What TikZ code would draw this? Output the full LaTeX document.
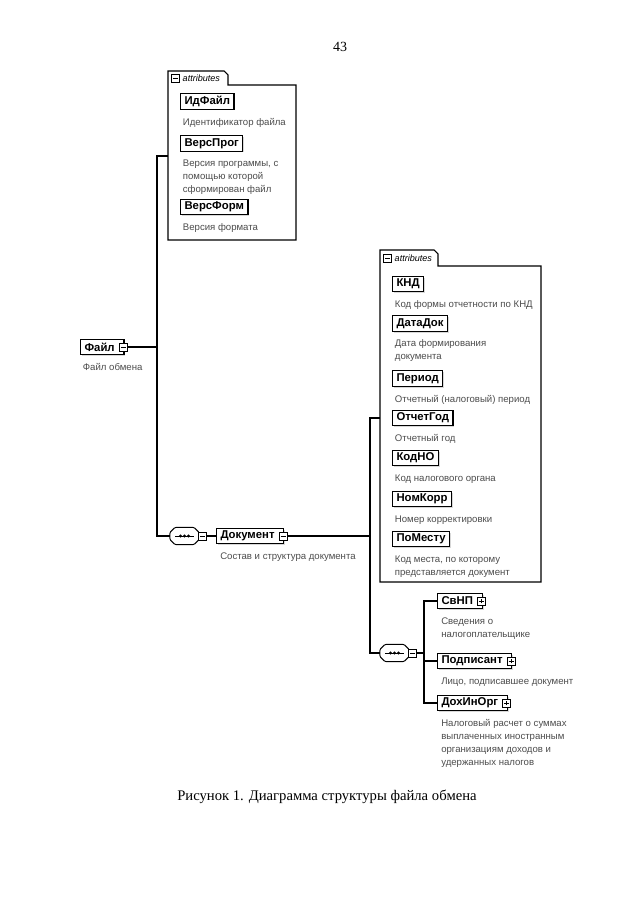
\documentclass[tikz,border=0pt]{standalone}
\usepackage{fontspec}
\setmainfont{Liberation Serif}
\setsansfont{Liberation Sans}
\usetikzlibrary{positioning, shadows}

\begin{document}
\begin{tikzpicture}[
      x=0.75pt, y=-0.75pt,
      elem/.style={rectangle, draw, line width=0.8pt, fill=white, anchor=west,
        font=\sffamily\bfseries\fontsize{8.5}{10}\selectfont,
        inner xsep=3pt, inner ysep=0pt, minimum height=11.5pt,
        drop shadow={shadow xshift=1pt, shadow yshift=-1pt, fill=black!30}},
      elemx/.style={elem, execute at end node={\hspace{4pt}}},
      desc/.style={font=\sffamily\fontsize{7.2}{9.75}\selectfont, text=black!70, align=left, inner sep=0pt},
      minus/.style={rectangle, draw, fill=white, inner sep=0pt, minimum size=6pt, line width=0.45pt,
        path picture={\draw[line width=0.45pt] ([xshift=1.2pt]path picture bounding box.west) -- ([xshift=-1.2pt]path picture bounding box.east);}},
      plus/.style={rectangle, draw, fill=white, inner sep=0pt, minimum size=6pt, line width=0.45pt,
        path picture={\draw[line width=0.45pt] ([xshift=1.2pt]path picture bounding box.west) -- ([xshift=-1.2pt]path picture bounding box.east)
          ([yshift=1.2pt]path picture bounding box.south) -- ([yshift=-1.2pt]path picture bounding box.north);}},
      seqsym/.style={rectangle, minimum width=21.5pt, minimum height=12.5pt, inner sep=0pt},
      seqline/.style={line width=0.7pt, fill=white, rounded corners=0.8pt},
      frame/.style={line width=0.8pt},
      conn/.style={line width=0.8pt},
      tabtext/.style={font=\sffamily\itshape\fontsize{6.8}{8}\selectfont, inner sep=0pt}
    ]
    \useasboundingbox (0,0) rectangle (640,905);

    \node[font=\fontsize{10.5}{12}\selectfont] (pnum) at (340,47) {43};

    % attributes of the root element
    \draw[frame, fill=white] (168,240) -- (168,71) -- (224,71) -- (228,75) -- (228,85) -- (296,85) -- (296,240) -- cycle;
    \node[minus] (atr1b) at (175.5,78) {};
    \node[tabtext, right=2pt of atr1b] (atr1t) {attributes};
    \coordinate (atr1in) at (168,156);

    \node[elem] (idfajl) at (180,101.5) {ИдФайл};
    \node[desc, below right=6pt and 2pt of idfajl.south west] (idfajld) {Идентификатор файла};
    \node[elem] (versprog) at (180,143.5) {ВерсПрог};
    \node[desc, below right=6pt and 2pt of versprog.south west] (versprogd) {Версия программы, с\\помощью которой\\сформирован файл};
    \node[elem] (versform) at (180,207) {ВерсФорм};
    \node[desc, below right=6pt and 2pt of versform.south west] (versformd) {Версия формата};

    % root element
    \node[elemx] (fajl) at (80,347) {Файл};
    \node[minus] (fajlb) at ([xshift=-1pt]fajl.east) {};
    \node[desc, below right=6pt and 2pt of fajl.south west] (fajld) {Файл обмена};
    \coordinate (j1) at (157,347);

    % sequences
    \node[seqsym] (seq1) at (184.5,536) {};
    \node[seqsym] (seq2) at (394.5,653) {};
    \foreach \s in {seq1,seq2} {
      \draw[seqline] ([xshift=3.8pt]\s.north west) -- ([xshift=-3.8pt]\s.north east) -- ([yshift=-3.8pt]\s.north east)
        -- ([yshift=3.8pt]\s.south east) -- ([xshift=-3.8pt]\s.south east) -- ([xshift=3.8pt]\s.south west)
        -- ([yshift=3.8pt]\s.south west) -- ([yshift=-3.8pt]\s.north west) -- cycle;
      \draw[line width=0.7pt] ([xshift=-7pt]\s.center) -- ([xshift=7pt]\s.center);
      \foreach \d in {-3,0,3}
        \fill ([xshift=\d pt]\s.center) circle (1.15pt);
    }
    \node[minus] (seq1b) at (202.5,536) {};
    \node[minus] (seq2b) at (412.5,653) {};

    \node[elemx] (dokument) at (216,536) {Документ};
    \node[minus] (dokumentb) at ([xshift=-1pt]dokument.east) {};
    \node[desc, below right=6pt and 3pt of dokument.south west] (dokumentd) {Состав и структура документа};
    \coordinate (j2) at (370,536);

    % attributes of Документ
    \draw[frame, fill=white] (380,582) -- (380,250) -- (434,250) -- (438,254) -- (438,266) -- (541,266) -- (541,582) -- cycle;
    \node[minus] (atr2b) at (387.5,258) {};
    \node[tabtext, right=2pt of atr2b] (atr2t) {attributes};
    \coordinate (atr2in) at (380,418);

    \node[elem] (knd) at (392,284) {КНД};
    \node[desc, below right=6pt and 2pt of knd.south west] (kndd) {Код формы отчетности по КНД};
    \node[elem] (datadok) at (392,323.5) {ДатаДок};
    \node[desc, below right=6pt and 2pt of datadok.south west] (datadokd) {Дата формирования\\документа};
    \node[elem] (period) at (392,378.5) {Период};
    \node[desc, below right=6pt and 2pt of period.south west] (periodd) {Отчетный (налоговый) период};
    \node[elem] (otchgod) at (392,418) {ОтчетГод};
    \node[desc, below right=6pt and 2pt of otchgod.south west] (otchgodd) {Отчетный год};
    \node[elem] (kodno) at (392,458) {КодНО};
    \node[desc, below right=6pt and 2pt of kodno.south west] (kodnod) {Код налогового органа};
    \node[elem] (nomkorr) at (392,499) {НомКорр};
    \node[desc, below right=6pt and 2pt of nomkorr.south west] (nomkorrd) {Номер корректировки};
    \node[elem] (pomestu) at (392,539) {ПоМесту};
    \node[desc, below right=6pt and 2pt of pomestu.south west] (pomestud) {Код места, по которому\\представляется документ};

    % children of the sequence
    \coordinate (j3) at (424,653);
    \node[elemx] (svnp) at (437,601) {СвНП};
    \node[plus] (svnpb) at ([xshift=-1pt]svnp.east) {};
    \node[desc, below right=6pt and 3pt of svnp.south west] (svnpd) {Сведения о\\налогоплательщике};
    \node[elemx] (podp) at (437,661) {Подписант};
    \node[plus] (podpb) at ([xshift=-1pt]podp.east) {};
    \node[desc, below right=6pt and 3pt of podp.south west] (podpd) {Лицо, подписавшее документ};
    \node[elemx] (dokhinorg) at (437,703) {ДохИнОрг};
    \node[plus] (dokhinorgb) at ([xshift=-1pt]dokhinorg.east) {};
    \node[desc, below right=6pt and 3pt of dokhinorg.south west] (dokhinorgd) {Налоговый расчет о суммах\\выплаченных иностранным\\организациям доходов и\\удержанных налогов};

    % connectors
    \draw[conn] (atr1in) -| (j1) |- (seq1.west);
    \draw[conn] (fajlb.east) -- (j1);
    \draw[conn] (seq1b.east) -- (dokument.west);
    \draw[conn] (dokumentb.east) -- (j2);
    \draw[conn] (atr2in) -| (j2) |- (seq2.west);
    \draw[conn] (seq2b.east) -- (j3);
    \draw[conn] (svnp.west) -| (j3) |- (dokhinorg.west);
    \draw[conn] (j3) |- (podp.west);

    \node[font=\fontsize{11}{13}\selectfont] (caption) at (327,797) {Рисунок 1. Диаграмма структуры файла обмена};
  \end{tikzpicture}
\end{document}
